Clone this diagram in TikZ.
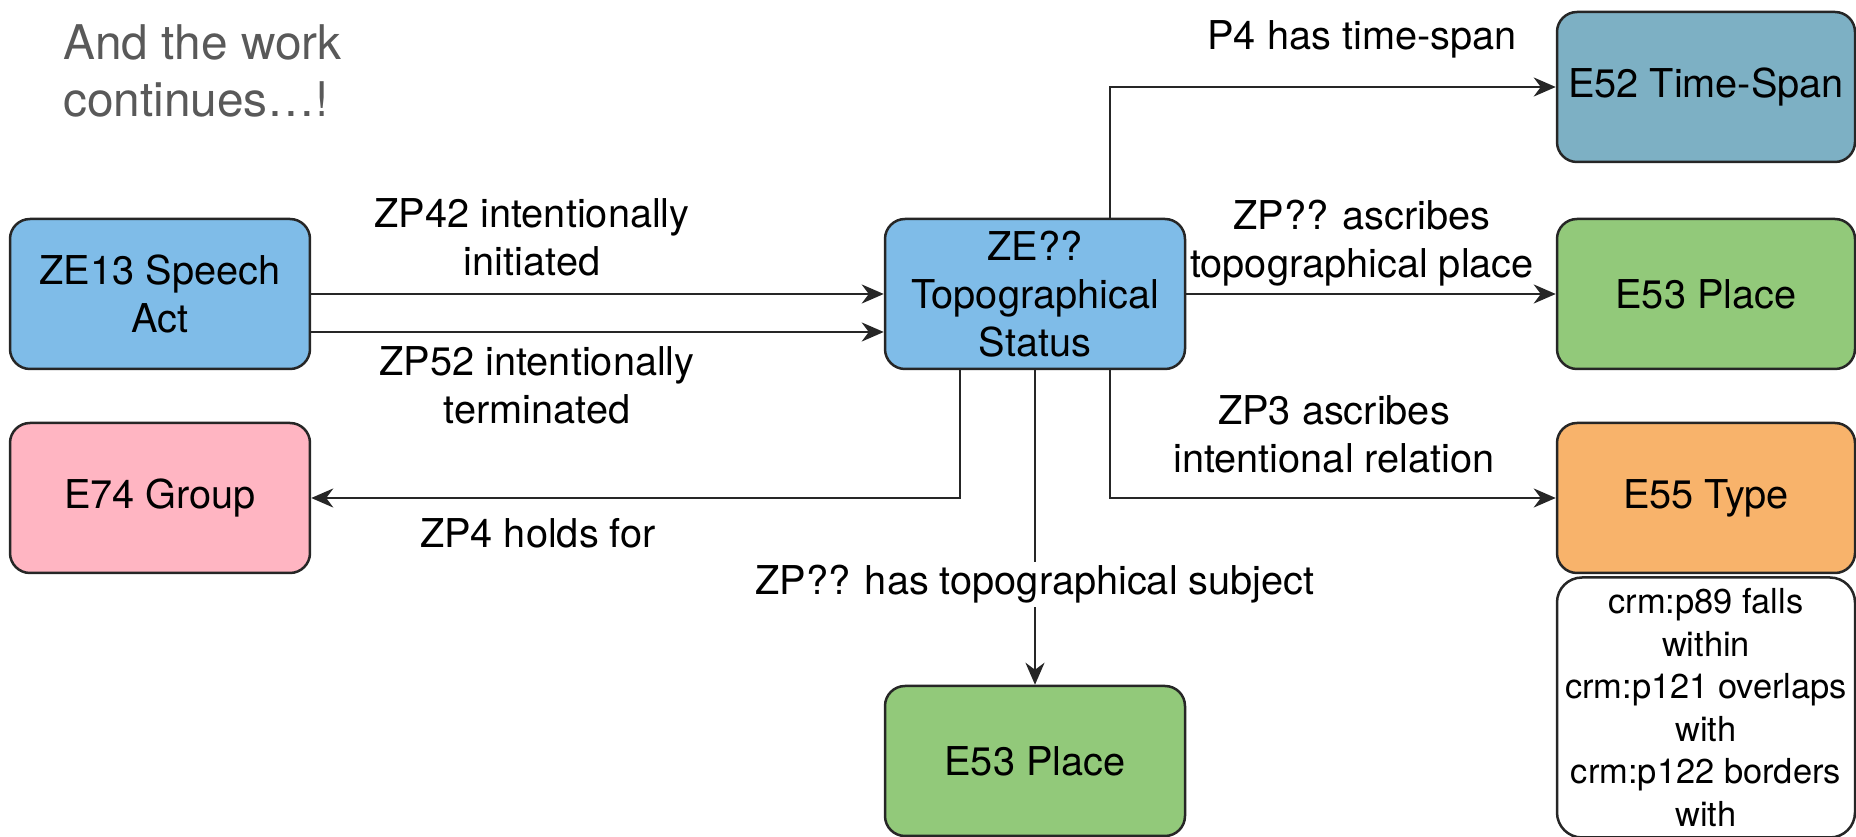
\documentclass[tikz,border=0pt]{standalone}
\usepackage{fontspec}
\setmainfont{TeX Gyre Heros}
\usetikzlibrary{arrows.meta,positioning}

\definecolor{speechblue}{HTML}{7FBCE8}
\definecolor{spanblue}{HTML}{7DB0C4}
\definecolor{placegreen}{HTML}{92C97A}
\definecolor{grouppink}{HTML}{FFB5C2}
\definecolor{typeorange}{HTML}{F8B36B}
\definecolor{linegray}{HTML}{262626}
\definecolor{titlegray}{HTML}{595959}

\begin{document}
\begin{tikzpicture}[x=0.1mm,y=-0.1mm,>={Stealth[length=2.2mm,width=1.9mm,inset=0.7mm]},
  line width=0.25mm,
  class node/.style={rectangle,rounded corners=2mm,draw=linegray,align=center,
    minimum width=30mm,minimum height=15mm,inner sep=0pt,font=\fontsize{11.3}{13.6}\selectfont},
  wide node/.style={class node,minimum width=29.8mm},
  note node/.style={class node,fill=white,rounded corners=2.5mm,minimum width=29.8mm,
    minimum height=26mm,font=\fontsize{9.8}{12.1}\selectfont},
  prop label/.style={align=center,inner sep=0pt,font=\fontsize{11.3}{13.6}\selectfont},
  link/.style={->,draw=linegray}]

  \useasboundingbox (0,0) rectangle (1856,837);

  % title
  \node[anchor=west,inner sep=0pt,align=left,text=titlegray,
    font=\fontsize{13.6}{16.2}\selectfont] (title) at (62,71) {And the work\\continues…!};

  % classes
  \node[class node,fill=speechblue] (speech) at (160,294) {ZE13 Speech\\Act};
  \node[class node,fill=speechblue] (topo) at (1035,294) {ZE??\\Topographical\\Status};
  \node[class node,fill=grouppink] (group) at (160,498) {E74 Group};
  \node[class node,fill=placegreen] (subject) at (1035,761) {E53 Place};

  \node[wide node,fill=spanblue] (span) at (1706,87) {E52 Time-Span};
  \node[wide node,fill=placegreen] (place) at (1706,294) {E53 Place};
  \node[wide node,fill=typeorange] (type) at (1706,498) {E55 Type};
  \node[note node,below=0.2mm of type] (typenote)
    {crm:p89 falls\\within\\crm:p121 overlaps\\with\\crm:p122 borders\\with};

  % properties
  \path
    (speech.east) edge[link] (topo.west)
    ([yshift=-3.8mm]speech.east) edge[link] ([yshift=-3.8mm]topo.west)
    (topo.east) edge[link] (place.west)
    (topo.south) edge[link] (subject.north);

  \draw[link] ([xshift=7.5mm]topo.north) |- (span.west);
  \draw[link] ([xshift=7.5mm]topo.south) |- (type.west);
  \draw[link] ([xshift=-7.5mm]topo.south) |- (group.east);

  \node[prop label,anchor=base] (spanlbl) at (1362,50) {P4 has time-span};
  \node[prop label] (placelbl) at (1362,243) {ZP?? ascribes\\topographical place};
  \node[prop label] (initlbl) at (532,237) {ZP42 intentionally\\initiated};
  \node[prop label] (termlbl) at (537,385) {ZP52 intentionally\\terminated};
  \node[prop label] (typelbl) at (1334,434) {ZP3 ascribes\\intentional relation};
  \node[prop label,anchor=base] (grouplbl) at (538,548) {ZP4 holds for};
  \node[prop label,anchor=base,fill=white,inner sep=1pt] (subjlbl) at (1035,595)
    {ZP?? has topographical subject};

\end{tikzpicture}
\end{document}
